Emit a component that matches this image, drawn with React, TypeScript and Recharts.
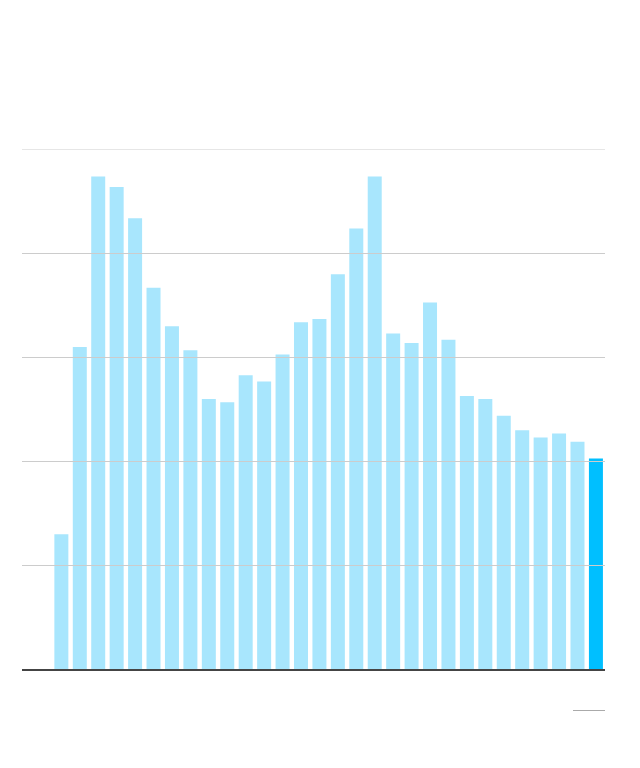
import React from "react";
import { BarChart, Bar, XAxis, YAxis, ReferenceLine, Cell } from "recharts";

const categories: string[] = [
  "1994", "1995", "1996", "1997", "1998", "1999", "2000", "2001", "2002", "2003",
  "2004", "2005", "2006", "2007", "2008", "2009", "2010", "2011", "2012", "2013",
  "2014", "2015", "2016", "2017", "2018", "2019", "2020", "2021", "2022", "2023",
];

const values: number[] = [
  13.0, 31.0, 47.4, 46.4, 43.4, 36.7, 33.0, 30.7, 26.0, 25.7,
  28.3, 27.7, 30.3, 33.4, 33.7, 38.0, 42.4, 47.4, 32.3, 31.4,
  35.3, 31.7, 26.3, 26.0, 24.4, 23.0, 22.3, 22.7, 21.9, 20.3,
];

const gridTicks: number[] = [10, 20, 30, 40];
const topTick = 50;

const data = categories.map((c, i) => ({ year: c, value: values[i] }));

const BaseLine = (props: any) => {
  const { x1, x2, y1 } = props;
  return (
    <line x1={x1} x2={x2} y1={y1 + 0.5} y2={y1 + 0.5} stroke="#444444" strokeWidth={2} />
  );
};

export default function App() {
  const last = data.length - 1;
  return (
    <div style={{ position: "relative", width: 624, height: 760 }}>
      <BarChart
        width={624}
        height={700}
        data={data}
        margin={{ top: 141.5, right: 27, bottom: 38.5, left: 14 }}
        barCategoryGap="12.8%"
      >
        <XAxis dataKey="year" hide padding={{ left: 30, right: 0 }} />
        <YAxis hide domain={[0, topTick]} ticks={[0, ...gridTicks, topTick]} />
        {gridTicks.map((t) => (
          <ReferenceLine key={t} y={t} stroke="#cccccc" strokeWidth={1} />
        ))}
        <ReferenceLine y={topTick} stroke="#e6e6e6" strokeWidth={1} />
        <Bar dataKey="value" isAnimationActive={false}>
          {data.map((d, i) => (
            <Cell key={d.year} fill={i === last ? "#00bfff" : "#a8e6fd"} />
          ))}
        </Bar>
        <ReferenceLine y={0} shape={BaseLine} />
      </BarChart>
      <div
        style={{
          position: "absolute",
          left: 565,
          top: 702,
          width: 32,
          borderTop: "1px solid #aaaaaa",
        }}
      />
    </div>
  );
}
